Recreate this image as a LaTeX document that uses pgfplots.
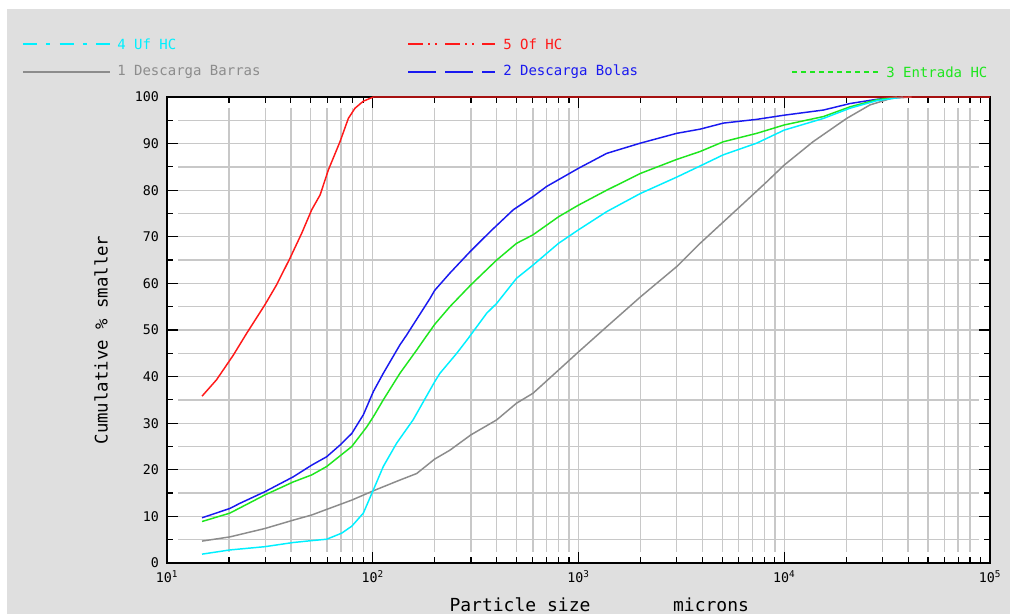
\documentclass[border=0pt]{standalone}
\usepackage{fontspec}
\setmainfont{DejaVu Sans Mono}
\usepackage{pgfplots}
\pgfplotsset{compat=1.18}
\definecolor{bgc}{RGB}{223,223,223}
\definecolor{gridc}{RGB}{200,200,200}
\definecolor{cy}{RGB}{0,240,255}
\definecolor{rd}{RGB}{255,25,25}
\definecolor{bl}{RGB}{25,25,240}
\definecolor{gr}{RGB}{30,230,30}
\definecolor{gy}{RGB}{140,140,140}
\begin{document}
\begin{tikzpicture}
\begin{scope}[x=0.75pt,y=0.75pt]
\fill[white] (0,0) rectangle (1010,614);
\fill[bgc] (7,0) rectangle (1010,605);
% legend row 1
\draw[cy,line width=1.1pt,dash pattern=on 10.5pt off 7pt on 3pt off 7pt] (23,570) -- (110,570);
\node[anchor=west,inner sep=0pt,text=cy,font=\fontsize{10.5}{12}\selectfont] at (117,570) {4 Uf HC};
\draw[rd,line width=1.1pt,dash pattern=on 11.25pt off 3.75pt on 1.5pt off 3.75pt on 1.5pt off 6pt] (408,570) -- (495,570);
\node[anchor=west,inner sep=0pt,text=rd,font=\fontsize{10.5}{12}\selectfont] at (503,570) {5 Of HC};
% legend row 2
\draw[gy,line width=1.1pt] (23,542) -- (110,542);
\node[anchor=west,inner sep=0pt,text=gy,font=\fontsize{10.5}{12}\selectfont] at (117,542) {1 Descarga Barras};
\draw[bl,line width=1.1pt,dash pattern=on 21pt off 6.75pt] (408,542) -- (495,542);
\node[anchor=west,inner sep=0pt,text=bl,font=\fontsize{10.5}{12}\selectfont] at (503,542) {2 Descarga Bolas};
\draw[gr,line width=1.1pt,dash pattern=on 3.75pt off 3pt] (792,542) -- (880,542);
\node[anchor=west,inner sep=0pt,text=gr,font=\fontsize{10.5}{12}\selectfont] at (886,542) {3 Entrada HC};
% axis labels
\node[anchor=base,inner sep=0pt,font=\fontsize{13.5}{15}\selectfont] at (520,3) {Particle size};
\node[anchor=base,inner sep=0pt,font=\fontsize{13.5}{15}\selectfont] at (711,3) {microns};
\node[rotate=90,inner sep=0pt,font=\fontsize{13}{15}\selectfont] at (101,274) {Cumulative \% smaller};
\end{scope}
\begin{axis}[
  at={(125.25pt,38.25pt)}, anchor=south west,
  scale only axis, width=617.25pt, height=349.5pt,
  xmode=log, xmin=10, xmax=100000, ymin=0, ymax=100,
  clip=false,
  axis background/.style={fill=white},
  xtick={10,100,1000,10000,100000},
  xticklabels={10\textsuperscript{1},10\textsuperscript{2},10\textsuperscript{3},10\textsuperscript{4},10\textsuperscript{5}},
  minor xtick={20,30,40,50,60,70,80,90,200,300,400,500,600,700,800,900,2000,3000,4000,5000,6000,7000,8000,9000,20000,30000,40000,50000,60000,70000,80000,90000},
  ytick={0,10,20,30,40,50,60,70,80,90,100},
  yticklabels={0,10,20,30,40,50,60,70,80,90,100},
  minor ytick={5,15,25,35,45,55,65,75,85,95},
  tick align=inside,
  major tick length=8.25pt, minor tick length=4.5pt,
  every tick/.style={black,line width=0.9pt},
  axis line style={black,line width=1.2pt},
  ticklabel style={font=\fontsize{10}{12}\selectfont},
  yticklabel style={xshift=-2.5pt},
  xticklabel style={yshift=-2.5pt},
]
\pgfplotsinvokeforeach{5,10,15,20,25,30,35,40,45,50,55,60,65,70,75,80,85,90,95}{
  \draw[gridc,line width=1pt] ([xshift=8.25pt]axis cs:10,#1) -- ([xshift=-8.25pt]axis cs:100000,#1);
}
\pgfplotsinvokeforeach{20,30,40,50,60,70,80,90,100,200,300,400,500,600,700,800,900,1000,2000,3000,4000,5000,6000,7000,8000,9000,10000,20000,30000,40000,50000,60000,70000,80000}{
  \draw[gridc,line width=1pt] ([yshift=-8.25pt]axis cs:#1,100) -- ([yshift=8.25pt]axis cs:#1,0);
}
% 1 Descarga Barras
\addplot[gy,line width=1.1pt] coordinates {
(14.8,4.7)(20.2,5.6)(29.9,7.4)(41.1,9.2)(50.5,10.3)(59.7,11.5)(79.1,13.5)(100.7,15.5)(135.5,17.8)(163.5,19.2)(200,22.3)(237,24.2)(300,27.5)(400,30.7)(500,34.3)(600,36.4)(800,41.4)(1000,45.3)(1371,50.7)(2000,57.1)(3000,63.6)(3900,68.6)(5060,73.2)(6100,76.5)(8220,81.8)(10000,85.4)(13800,90.4)(20100,95.4)(26100,98.3)(33100,99.7)(41600,100)
};
% 2 Descarga Bolas
\addplot[bl,line width=1.1pt] coordinates {
(14.8,9.7)(20.2,11.7)(22.6,12.8)(29.9,15.3)(41.1,18.5)(50.5,21.0)(59.7,22.8)(69.3,25.3)(79.1,27.8)(90,31.8)(100.7,36.8)(112.5,40.7)(135.5,46.8)(146,48.9)(163.5,52.3)(190,56.8)(200,58.5)(237,62.2)(297,66.8)(372,71.1)(482,75.8)(600,78.6)(700,80.8)(1000,84.7)(1371,87.9)(2000,90.1)(3000,92.2)(3900,93.1)(5060,94.4)(7350,95.2)(10000,96.1)(15500,97.2)(20900,98.6)(28100,99.5)(35300,100)
};
% 3 Entrada HC
\addplot[gr,line width=1.1pt] coordinates {
(14.8,8.9)(20.2,10.7)(29.9,14.6)(41.1,17.4)(50.5,18.9)(59.7,20.7)(79.1,25.0)(93.5,29.2)(100.7,31.4)(112.5,35.0)(135.5,40.7)(163.5,45.7)(179,48.2)(200,51.2)(237,55.0)(300,59.7)(400,65.0)(500,68.6)(600,70.4)(800,74.3)(1000,76.8)(1371,80.0)(2000,83.6)(3000,86.6)(3900,88.3)(5060,90.4)(7350,92.2)(10000,94.0)(15500,95.8)(20900,97.9)(28100,99.4)(35300,100)
};
% 4 Uf HC
\addplot[cy,line width=1.1pt] coordinates {
(14.8,1.9)(20.2,2.8)(29.9,3.5)(41.1,4.4)(50.5,4.8)(59.7,5.1)(70.6,6.4)(79.1,7.9)(90,10.7)(100.7,15.7)(112.5,20.7)(130.6,25.7)(157,30.7)(200,38.9)(212,40.7)(256,45.0)(291,48.2)(358,53.6)(400,55.7)(500,61.1)(600,63.9)(800,68.6)(1000,71.5)(1371,75.4)(2000,79.3)(3000,82.8)(3900,85.2)(5060,87.6)(7350,90.1)(10000,92.9)(15500,95.4)(20900,97.6)(28100,99.2)(37800,100)
};
% 5 Of HC
\addplot[rd,line width=1.1pt] coordinates {
(14.8,35.8)(17.4,39.3)(21,44.6)(24.4,49.3)(29.9,55.4)(34.1,59.7)(39.6,65.4)(45.2,70.8)(50.5,75.8)(55.5,79.0)(60.8,84.3)(69.3,90.4)(76.1,95.4)(82,97.6)(90,99.1)(100.7,100)(100000,100)
};
\end{axis}
\end{tikzpicture}
\end{document}
